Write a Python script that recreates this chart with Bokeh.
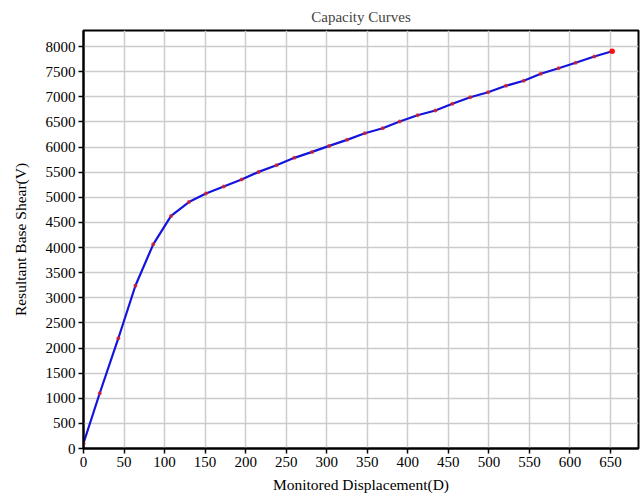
from bokeh.plotting import figure
from bokeh.models import Range1d, FixedTicker
from bokeh.embed import file_html
from bokeh.resources import INLINE

displacement = [0, 20, 43, 64, 86, 108, 130, 151, 173, 195, 216, 238, 260, 282, 303,
                325, 347, 369, 390, 412, 434, 455, 477, 499, 521, 543, 564, 586, 607, 630, 652]
shear = [105, 1100, 2195, 3240, 4064, 4630, 4905, 5074, 5213, 5353, 5506, 5637, 5785, 5904, 6023,
         6143, 6275, 6375, 6508, 6633, 6727, 6861, 6992, 7092, 7219, 7319, 7458, 7570, 7677, 7803, 7908]
x_ticks = list(range(0, 651, 50))
y_ticks = list(range(0, 8001, 500))
title_text = "Capacity Curves"

FONT = "Liberation Serif"
X_MAX, Y_MAX = 684.5, 8320

p = figure(width=641, height=500, output_backend="svg", toolbar_location=None,
           x_range=Range1d(0, X_MAX), y_range=Range1d(0, Y_MAX),
           min_border_left=83, min_border_right=3, min_border_top=30, min_border_bottom=52)
p.frame_width = 555
p.frame_height = 418

p.title.text = title_text
p.title.text_font = FONT
p.title.text_font_size = "15px"
p.title.text_font_style = "normal"
p.title.align = "center"
p.title.offset = 0
p.title.standoff = 11

p.outline_line_color = "black"
p.outline_line_width = 2
p.outline_line_alpha = 1

for ax in (p.xaxis[0], p.yaxis[0]):
    ax.axis_line_color = "black"
    ax.axis_line_width = 2
    ax.major_tick_line_color = "black"
    ax.major_tick_line_width = 1.5
    ax.major_tick_out = 5
    ax.major_tick_in = 0
    ax.minor_tick_line_color = None
    ax.major_label_text_font = FONT
    ax.major_label_text_font_size = "15px"
    ax.major_label_text_color = "black"
    ax.axis_label_text_font = FONT
    ax.axis_label_text_font_size = "15.5px"
    ax.axis_label_text_font_style = "normal"
    ax.axis_label_text_color = "black"

p.xaxis[0].ticker = FixedTicker(ticks=x_ticks)
p.yaxis[0].ticker = FixedTicker(ticks=y_ticks)
p.xaxis[0].axis_label = "Monitored Displacement(D)"
p.yaxis[0].axis_label = "Resultant Base Shear(V)"
p.xaxis[0].major_label_standoff = 3
p.yaxis[0].major_label_standoff = 3
p.xaxis[0].axis_label_standoff = 6
p.yaxis[0].axis_label_standoff = 14

p.xgrid.ticker = FixedTicker(ticks=x_ticks)
p.ygrid.ticker = FixedTicker(ticks=y_ticks)
p.grid.grid_line_color = "#cccccc"
p.grid.grid_line_width = 1.5

p.background_fill_color = "white"
p.border_fill_color = "white"

p.line(displacement, shear, line_color="#1414dc", line_width=2.2)
p.scatter(displacement, shear, size=4, fill_color="#e02020", line_color=None, fill_alpha=0.8)
p.scatter(displacement[-1:], shear[-1:], size=5.5, fill_color="#ff1010", line_color=None)

open("out.html", "w").write(file_html(p, INLINE))
